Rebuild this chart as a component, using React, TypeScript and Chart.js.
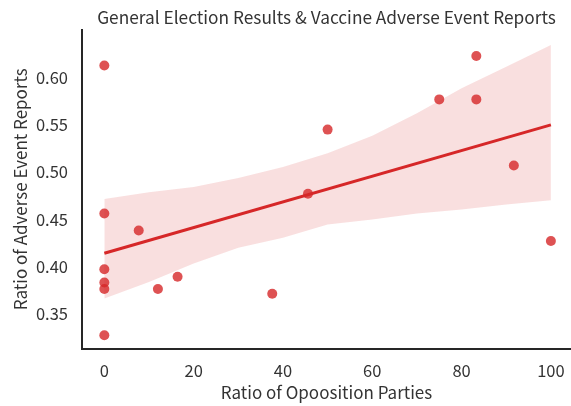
import React, { useEffect, useRef } from "react";
import { Chart, registerables } from "chart.js";

Chart.register(...registerables);

const titleText = "General Election Results & Vaccine Adverse Event Reports";
const xLabel = "Ratio of Opoosition Parties";
const yLabel = "Ratio of Adverse Event Reports";

const pointX = [0, 0, 0, 0, 0, 0, 7.7, 12, 16.4, 37.6, 45.6, 50, 75, 83.3, 83.3, 91.7, 100];
const pointY = [0.613, 0.456, 0.397, 0.383, 0.376, 0.327, 0.438, 0.376, 0.389, 0.371, 0.477, 0.545, 0.577, 0.577, 0.623, 0.507, 0.427];

const fitX = [0, 100];
const fitY = [0.414, 0.55];

const bandX = [0, 10, 20, 30, 40, 50, 60, 70, 80, 90, 100];
const bandUpper = [0.4715, 0.4785, 0.4842, 0.4937, 0.5053, 0.52, 0.5384, 0.5624, 0.5888, 0.6116, 0.6346];
const bandLower = [0.3659, 0.3834, 0.4031, 0.4197, 0.4303, 0.4444, 0.4497, 0.456, 0.4602, 0.4655, 0.47];

const xTicks = [0, 20, 40, 60, 80, 100];
const yTicks = [0.35, 0.4, 0.45, 0.5, 0.55, 0.6];

const FONT = "'Noto Sans CJK KR', 'Noto Sans', sans-serif";
const TEXT = "#333333";
const SPINE = "#262626";

export default function App() {
  const ref = useRef<HTMLCanvasElement | null>(null);

  useEffect(() => {
    if (!ref.current) return;
    const pts = pointX.map((x, i) => ({ x, y: pointY[i] }));
    const fit = fitX.map((x, i) => ({ x, y: fitY[i] }));
    const up = bandX.map((x, i) => ({ x, y: bandUpper[i] }));
    const lo = bandX.map((x, i) => ({ x, y: bandLower[i] }));

    const chart = new Chart(ref.current, {
      type: "scatter",
      data: {
        datasets: [
          { type: "scatter", data: pts, backgroundColor: "rgba(214,39,40,0.8)", borderWidth: 0, pointRadius: 5, pointHoverRadius: 5, order: 3 } as any,
          { type: "line", data: lo, borderWidth: 0, pointRadius: 0, fill: false, order: 2 } as any,
          { type: "line", data: up, borderWidth: 0, pointRadius: 0, fill: "-1", backgroundColor: "rgba(214,39,40,0.15)", order: 2 } as any,
          { type: "line", data: fit, borderColor: "#d62728", borderWidth: 3, pointRadius: 0, fill: false, order: 1 } as any,
        ],
      },
      options: {
        responsive: false,
        animation: false,
        layout: { padding: 0, autoPadding: false },
        plugins: {
          legend: { display: false },
          tooltip: { enabled: false },
          title: {
            display: true, text: titleText, fullSize: false, color: TEXT,
            font: { family: FONT, size: 17.3, weight: "normal" },
            padding: { top: 6.6, bottom: 2.2 },
          },
        },
        scales: {
          x: {
            type: "linear", min: -5, max: 104.5,
            grid: { display: false, drawTicks: false },
            border: { display: true, color: SPINE, width: 2 },
            afterBuildTicks: (s: any) => { s.ticks = xTicks.map((v) => ({ value: v })); },
            afterFit: (s: any) => { s.height = 57; s.paddingLeft = 0; s.paddingRight = 0; },
            ticks: { color: TEXT, font: { family: FONT, size: 16.5 }, padding: 12, autoSkip: false, maxRotation: 0, callback: (v: any) => String(v) },
            title: { display: true, text: xLabel, color: TEXT, font: { family: FONT, size: 17 }, padding: { top: 0, bottom: 3.5 } },
          },
          y: {
            type: "linear", min: 0.3125, max: 0.651,
            grid: { display: false, drawTicks: false },
            border: { display: true, color: SPINE, width: 2 },
            afterBuildTicks: (s: any) => { s.ticks = yTicks.map((v) => ({ value: v })); },
            afterFit: (s: any) => { s.width = 82; s.paddingTop = 0; s.paddingBottom = 0; },
            ticks: { color: TEXT, font: { family: FONT, size: 16.5 }, padding: 14, autoSkip: false, callback: (v: any) => Number(v).toFixed(2) },
            title: { display: true, text: yLabel, color: TEXT, font: { family: FONT, size: 17 }, padding: { top: 10, bottom: 0 } },
          },
        },
      },
    });
    return () => chart.destroy();
  }, []);

  return (
    <div style={{ position: "fixed", left: 0, top: 0, width: 571, height: 406, background: "#fff" }}>
      <canvas ref={ref} width={571} height={406} style={{ display: "block", width: 571, height: 406 }} />
    </div>
  );
}
